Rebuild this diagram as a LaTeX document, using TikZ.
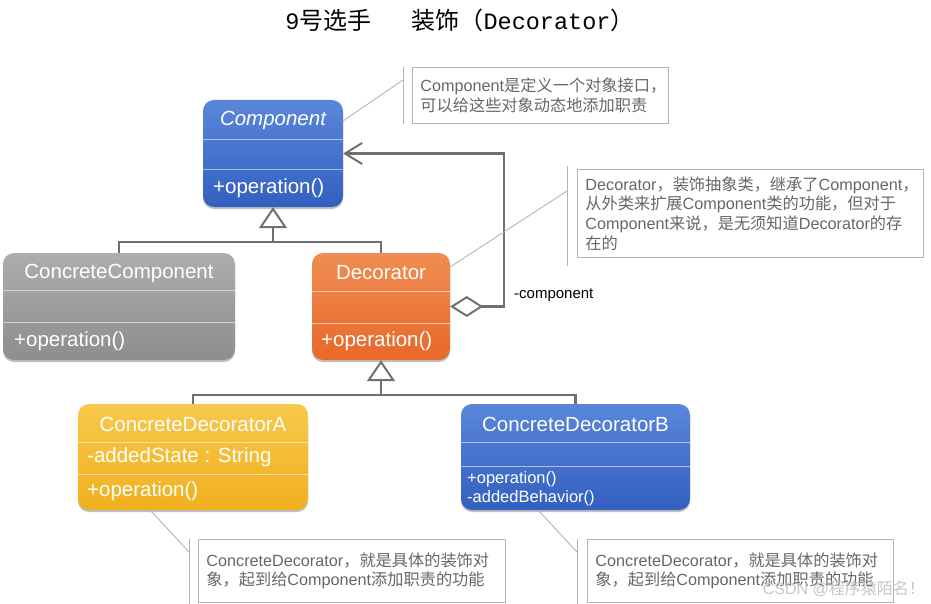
\documentclass[tikz,border=0pt]{standalone}
\usepackage{fontspec}
\setmainfont{Liberation Sans}
\newfontfamily\cjk{Noto Sans CJK SC}
\newfontfamily\monof{Liberation Mono}
\usetikzlibrary{arrows.meta,shadows,calc}
\definecolor{connc}{HTML}{707070}
\definecolor{notegray}{HTML}{B4B4B4}
\definecolor{notetext}{HTML}{666666}
\definecolor{blueT}{HTML}{5A86DA}
\definecolor{blueB}{HTML}{3360C0}
\definecolor{grayT}{HTML}{ADADAD}
\definecolor{grayB}{HTML}{8E8E8E}
\definecolor{orangeT}{HTML}{F08D52}
\definecolor{orangeB}{HTML}{E8682A}
\definecolor{yellowT}{HTML}{F8C84C}
\definecolor{yellowB}{HTML}{F0B01E}
\tikzset{
  classbox/.style={rounded corners=11pt, inner sep=0pt, draw=none,
    drop shadow={opacity=0.25, shadow xshift=0pt, shadow yshift=-2pt, fill=black}},
  divider/.style={draw=white, draw opacity=0.55, line width=0.9pt},
  ctext/.style={text=white, font=\fontsize{20.5}{24}\selectfont, inner sep=0pt},
  smtext/.style={text=white, font=\fontsize{16.5}{19}\selectfont, inner sep=0pt, anchor=west},
  gen/.style={draw=connc, line width=2.4pt},
  note/.style={draw=notegray, line width=0.9pt, text=notetext, align=left,
    inner xsep=8pt, inner ysep=0pt, anchor=north west,
    font=\fontsize{16.2}{19.7}\selectfont},
  noteline/.style={draw=notegray, line width=0.9pt},
}
\begin{document}
\begin{tikzpicture}[x=1pt,y=-1pt]
\useasboundingbox (0,0) rectangle (931,604);

% title
\node[font=\fontsize{24}{27}\selectfont, inner sep=0pt] (title) at (460,20)
  {{\monof\fontsize{23.5}{27}\selectfont 9}{\cjk 号选手}\hspace{40pt}{\cjk 装饰（}{\monof\fontsize{23.5}{27}\selectfont Decorator}{\cjk ）}};

% ---- Component
\node[classbox, top color=blueT, bottom color=blueB, minimum width=140pt, minimum height=107pt] (comp) at (273,153.5) {};
\draw[divider] (comp.west |- 0,139) -- (comp.east |- 0,139);
\draw[divider] (comp.west |- 0,169) -- (comp.east |- 0,169);
\node[ctext, font=\fontsize{20.5}{24}\selectfont\itshape] (compT) at (273,120) {Component};
\node[ctext, anchor=west] (compM) at (213,188) {+operation()};

% ---- ConcreteComponent
\node[classbox, top color=grayT, bottom color=grayB, minimum width=232pt, minimum height=107pt] (cc) at (119,306.5) {};
\draw[divider] (cc.west |- 0,290) -- (cc.east |- 0,290);
\draw[divider] (cc.west |- 0,322) -- (cc.east |- 0,322);
\node[ctext] (ccT) at (119,273) {ConcreteComponent};
\node[ctext, anchor=west] (ccM) at (14,341) {+operation()};

% ---- Decorator
\node[classbox, top color=orangeT, bottom color=orangeB, minimum width=138pt, minimum height=107pt] (dec) at (381,306.5) {};
\draw[divider] (dec.west |- 0,291) -- (dec.east |- 0,291);
\draw[divider] (dec.west |- 0,323) -- (dec.east |- 0,323);
\node[ctext] (decT) at (381,273) {Decorator};
\node[ctext, anchor=west] (decM) at (321,341) {+operation()};

% ---- ConcreteDecoratorA
\node[classbox, top color=yellowT, bottom color=yellowB, minimum width=230pt, minimum height=106pt] (cda) at (193,457) {};
\draw[divider] (cda.west |- 0,442) -- (cda.east |- 0,442);
\draw[divider] (cda.west |- 0,474) -- (cda.east |- 0,474);
\node[ctext] (cdaT) at (193,424) {ConcreteDecoratorA};
\node[ctext, anchor=west] (cdaA) at (87,457) {-addedState : String};
\node[ctext, anchor=west] (cdaM) at (87,491) {+operation()};

% ---- ConcreteDecoratorB
\node[classbox, top color=blueT, bottom color=blueB, minimum width=229pt, minimum height=106pt] (cdb) at (575.5,457) {};
\draw[divider] (cdb.west |- 0,442) -- (cdb.east |- 0,442);
\draw[divider] (cdb.west |- 0,466) -- (cdb.east |- 0,466);
\node[ctext] (cdbT) at (575.5,424) {ConcreteDecoratorB};
\node[smtext] (cdbM1) at (467,479) {+operation()};
\node[smtext] (cdbM2) at (467,498) {-addedBehavior()};

% ---- generalisation 1
\coordinate (j1) at (273,242);
\draw[gen] (cc.north) |- (j1);
\draw[gen] (dec.north) |- (j1);
\draw[gen, -{Triangle[open, length=21pt, width=28pt, line width=2pt]}] (j1) -- (comp.south);

% ---- generalisation 2
\coordinate (j2) at (381,395);
\draw[gen] (cda.north) |- (j2);
\draw[gen] (cdb.north) |- (j2);
\draw[gen, -{Triangle[open, length=21pt, width=28pt, line width=2pt]}] (j2) -- (dec.south);

% ---- aggregation
\coordinate (aggx) at (504,0);
\draw[gen, {Diamond[open, length=33pt, width=21pt, line width=2pt]}-{Straight Barb[length=17pt, width=21pt, line width=2pt]}]
  (dec.east) -- (dec.east -| aggx) -- (comp.east -| aggx) -- (comp.east);
\node[anchor=west, font=\fontsize{15}{18}\selectfont, inner sep=0pt] (role) at (514,295) {-component};

% ---- notes
\node[note, text width=240pt, minimum height=56pt] (note1) at (412,67)
  {Component{\cjk 是定义一个对象接口，}\\{\cjk 可以给这些对象动态地添加职责}};
\draw[noteline] ($(note1.north west)+(-9,0)$) -- ($(note1.south west)+(-9,0)$);
\coordinate (n1a) at (343,121);
\coordinate (n1b) at (403,80);
\draw[noteline] (n1a) -- (n1b);

\node[note, text width=330pt, minimum height=88pt] (note2) at (577,169)
  {Decorator{\cjk ，装饰抽象类，继承了}Component{\cjk ，}\\{\cjk 从外类来扩展}Component{\cjk 类的功能，但对于}\\Component{\cjk 来说，是无须知道}Decorator{\cjk 的存}\\{\cjk 在的}};
\draw[noteline] ($(note2.north west)+(-10,-3)$) -- ($(note2.south west)+(-10,8)$);
\coordinate (n2a) at (450,267);
\coordinate (n2b) at (567,191);
\draw[noteline] (n2a) -- (n2b);

\node[note, text width=291pt, minimum height=63pt] (note3) at (198,539)
  {ConcreteDecorator{\cjk ，就是具体的装饰对}\\{\cjk 象，起到给}Component{\cjk 添加职责的功能}};
\draw[noteline] ($(note3.north west)+(-9,0)$) -- ($(note3.south west)+(-9,2)$);
\coordinate (n3a) at (150,510);
\coordinate (n3b) at (189,552);
\draw[noteline] (n3a) -- (n3b);

\node[note, text width=290pt, minimum height=63pt] (note4) at (587,539)
  {ConcreteDecorator{\cjk ，就是具体的装饰对}\\{\cjk 象，起到给}Component{\cjk 添加职责的功能}};
\draw[noteline] ($(note4.north west)+(-10,0)$) -- ($(note4.south west)+(-10,2)$);
\coordinate (n4a) at (538,510);
\coordinate (n4b) at (577,552);
\draw[noteline] (n4a) -- (n4b);

% watermark
\node[anchor=east, text=gray!45, font=\fontsize{16}{18}\selectfont, inner sep=0pt] (wm) at (925,589) {CSDN @{\cjk 程序猿陌名！}};
\end{tikzpicture}
\end{document}
